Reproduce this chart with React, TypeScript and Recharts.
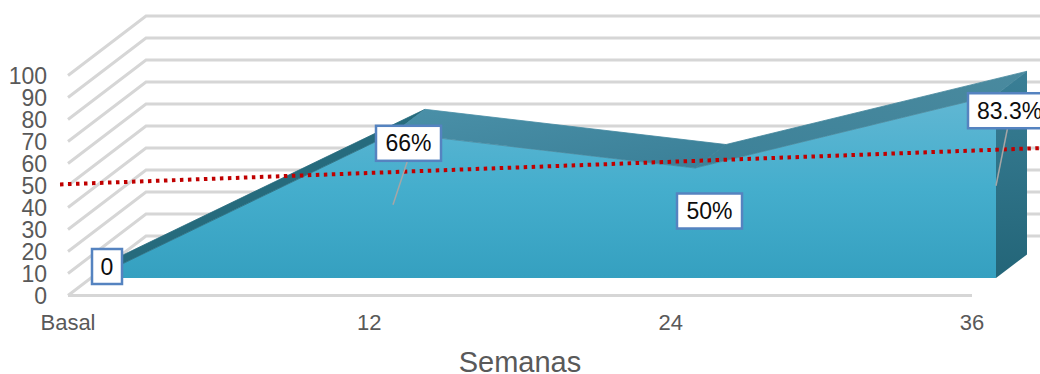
import { Area, AreaChart, Line, LineChart, XAxis, YAxis } from "recharts";

const weeks = ["Basal", "12", "24", "36"];
const responseValues = [0, 66, 50, 83.3];
const responseLabels = ["0", "66%", "50%", "83.3%"];
const trendValues = [50.5, 56, 61.5, 67];
const yTicks = [0, 10, 20, 30, 40, 50, 60, 70, 80, 90, 100];

const chartData = weeks.map((week, i) => ({
  week,
  response: responseValues[i],
  trend: trendValues[i],
}));

const WIDTH = 1040;
const HEIGHT = 374;
const FONT = '"Liberation Sans", Arial, sans-serif';
const AXIS_TEXT = "#595959";
const GRID = "#d6d6d6";

// depth of the back wall and of the area slab, in pixels
const WALL_DX = 78;
const WALL_DY = -59.5;
const SLAB_DX = 31;
const SLAB_DY = -23.5;

const wallMargin = { left: 0, right: 68, top: 75.5, bottom: 0 };
const slabMargin = { left: 93, right: 44, top: 58, bottom: 96 };
const trendMargin = { left: 60, right: 0, top: 75.5, bottom: 78.5 };

const topFaceFills = ["#266b7d", "url(#topFaceMid)", "url(#topFaceEnd)"];

// box centre and leader end relative to each data point
const labelLayout = [
  { dx: 14, dy: -11.5, w: 30, leader: null },
  { dx: 14.5, dy: 10.5, w: 65, leader: { x: -1, y: 72 } },
  { dx: 14.5, dy: 43, w: 65, leader: null },
  { dx: 12.5, dy: 16, w: 81, leader: { x: 0, y: 91 } },
];

function WallTick({ x, y, payload }: any) {
  const left = x + 8;
  return (
    <g>
      <polyline
        points={`${left},${y} ${left + WALL_DX},${y + WALL_DY} ${WIDTH},${y + WALL_DY}`}
        fill="none"
        stroke={GRID}
        strokeWidth={3}
      />
      <text
        x={47}
        y={y + 8}
        textAnchor="end"
        fontFamily={FONT}
        fontSize={23}
        fill={AXIS_TEXT}
      >
        {payload.value}
      </text>
    </g>
  );
}

function WeekTick({ x, y, payload }: any) {
  return (
    <text
      x={x}
      y={y + 26}
      textAnchor="middle"
      fontFamily={FONT}
      fontSize={22}
      fill={AXIS_TEXT}
    >
      {payload.value}
    </text>
  );
}

// the dot callback runs once per point, so the slab faces are drawn on the last one
function slabFaces() {
  const pts: { x: number; y: number }[] = [];
  return (props: any) => {
    pts[props.index] = { x: props.cx, y: props.cy };
    if (props.index < weeks.length - 1) return <g key={props.index} />;
    const last = pts[pts.length - 1];
    const floorY = last.y + responseValues[responseValues.length - 1] * 2.2;
    return (
      <g key="faces">
        {pts.slice(0, -1).map((p, i) => {
          const n = pts[i + 1];
          return (
            <polygon
              key={i}
              fill={topFaceFills[i]}
              stroke={topFaceFills[i]}
              strokeWidth={0.8}
              points={`${p.x},${p.y} ${n.x},${n.y} ${n.x + SLAB_DX},${n.y + SLAB_DY} ${p.x + SLAB_DX},${p.y + SLAB_DY}`}
            />
          );
        })}
        <polygon
          fill="url(#sideFace)"
          points={`${last.x},${last.y} ${last.x + SLAB_DX},${last.y + SLAB_DY} ${last.x + SLAB_DX},${floorY + SLAB_DY} ${last.x},${floorY}`}
        />
      </g>
    );
  };
}

function ValueLabel(props: any) {
  const { cx, cy, index } = props;
  const box = labelLayout[index];
  const h = 35;
  const bx = cx + box.dx;
  const by = cy + box.dy;
  return (
    <g key={index}>
      {box.leader && (
        <line
          x1={bx - 1}
          y1={by + h / 2}
          x2={cx + box.leader.x}
          y2={cy + box.leader.y}
          stroke="#a6a6a6"
          strokeWidth={1.5}
        />
      )}
      <rect
        x={bx - box.w / 2}
        y={by - h / 2}
        width={box.w}
        height={h}
        fill="#fff"
        stroke="#5583c0"
        strokeWidth={2.5}
      />
      <text
        x={index === 3 ? bx - box.w / 2 + 9 : bx}
        y={by + 8}
        textAnchor={index === 3 ? "start" : "middle"}
        fontFamily={FONT}
        fontSize={23}
        fill="#0d0d0d"
      >
        {responseLabels[index]}
      </text>
    </g>
  );
}

const layer: React.CSSProperties = { position: "absolute", left: 0, top: 0 };

export default function App() {
  return (
    <div
      style={{
        position: "absolute",
        left: 0,
        top: 0,
        width: WIDTH,
        height: HEIGHT,
        overflow: "hidden",
        background: "#fff",
      }}
    >
      {/* walls, floor and axis text */}
      <div style={layer}>
        <LineChart width={WIDTH} height={HEIGHT} data={chartData} margin={wallMargin}>
          <XAxis
            dataKey="week"
            scale="point"
            height={78.5}
            interval={0}
            tickLine={false}
            axisLine={{ stroke: GRID, strokeWidth: 3 }}
            tick={<WeekTick />}
            label={{
              value: "Semanas",
              position: "insideBottom",
              offset: 2,
              fontFamily: FONT,
              fontSize: 29,
              fill: AXIS_TEXT,
            }}
          />
          <YAxis
            width={68}
            domain={[0, 100]}
            ticks={yTicks}
            interval={0}
            tickLine={false}
            axisLine={false}
            tick={<WallTick />}
          />
          {/* keeps the value axis alive on this layer, the slab is drawn above */}
          <Line
            dataKey="response"
            stroke="none"
            dot={false}
            activeDot={false}
            isAnimationActive={false}
          />
        </LineChart>
      </div>

      {/* area slab */}
      <div style={layer}>
        <AreaChart width={WIDTH} height={HEIGHT} data={chartData} margin={slabMargin}>
          <defs>
            <linearGradient id="frontFace" x1="0" y1="0" x2="0" y2="1">
              <stop offset="0%" stopColor="#62b7d3" />
              <stop offset="50%" stopColor="#45aecd" />
              <stop offset="100%" stopColor="#35a0c0" />
            </linearGradient>
            <linearGradient id="topFaceMid" x1="0" y1="0" x2="1" y2="1">
              <stop offset="0%" stopColor="#4a90a8" />
              <stop offset="100%" stopColor="#3a7f97" />
            </linearGradient>
            <linearGradient id="topFaceEnd" x1="0" y1="1" x2="1" y2="0">
              <stop offset="0%" stopColor="#3c8198" />
              <stop offset="100%" stopColor="#4a8a9f" />
            </linearGradient>
            <linearGradient id="sideFace" x1="0" y1="0" x2="0" y2="1">
              <stop offset="0%" stopColor="#3a7f96" />
              <stop offset="100%" stopColor="#236578" />
            </linearGradient>
          </defs>
          <XAxis dataKey="week" scale="point" hide />
          <YAxis domain={[0, 100]} hide />
          <Area
            dataKey="response"
            type="linear"
            fill="url(#frontFace)"
            fillOpacity={1}
            stroke="none"
            dot={false}
            activeDot={false}
            isAnimationActive={false}
          />
          <Line
            dataKey="response"
            type="linear"
            stroke="none"
            dot={slabFaces()}
            activeDot={false}
            isAnimationActive={false}
          />
        </AreaChart>
      </div>

      {/* dotted reference series, runs past both ends of the slab */}
      <div style={layer}>
        <LineChart width={WIDTH} height={HEIGHT} data={chartData} margin={trendMargin}>
          <XAxis dataKey="week" scale="point" hide />
          <YAxis domain={[0, 100]} hide />
          <Line
            dataKey="trend"
            type="linear"
            stroke="#c00000"
            strokeWidth={4}
            strokeDasharray="3.5 4.5"
            dot={false}
            activeDot={false}
            isAnimationActive={false}
          />
        </LineChart>
      </div>

      {/* value callouts */}
      <div style={layer}>
        <LineChart width={WIDTH} height={HEIGHT} data={chartData} margin={slabMargin}>
          <XAxis dataKey="week" scale="point" hide />
          <YAxis domain={[0, 100]} hide />
          <Line
            dataKey="response"
            type="linear"
            stroke="none"
            dot={(p: any) => <ValueLabel key={p.index} {...p} />}
            activeDot={false}
            isAnimationActive={false}
          />
        </LineChart>
      </div>
    </div>
  );
}
